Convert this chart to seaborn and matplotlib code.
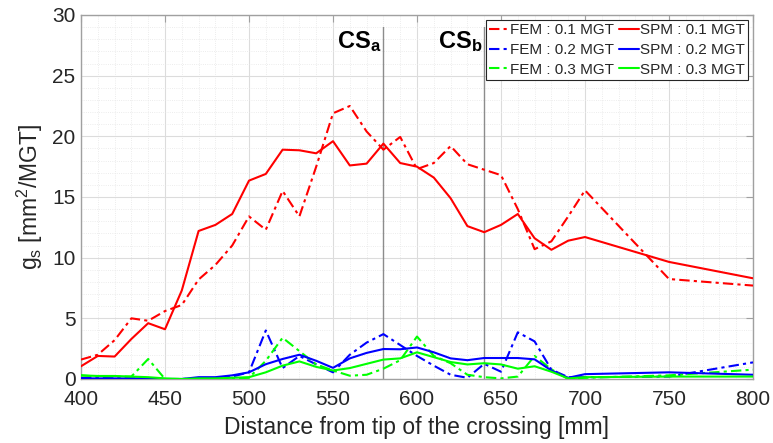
import numpy as np
import pandas as pd
import matplotlib
matplotlib.use("Agg")
import matplotlib.pyplot as plt
import seaborn as sns
from matplotlib.ticker import MultipleLocator

x = [400, 410, 420, 430, 440, 450, 460, 470, 480, 490, 500, 510, 520, 530, 540,
     550, 560, 570, 580, 590, 600, 610, 620, 630, 640, 650, 660, 670, 680, 690,
     700, 750, 800]

fem_01 = [1.6, 2.0, 3.2, 5.0, 4.8, 5.6, 6.1, 8.2, 9.4, 11.0, 13.4, 12.3, 15.5, 13.4, 17.5,
          21.9, 22.5, 20.4, 18.9, 19.95, 17.3, 17.8, 19.2, 17.7, 17.25, 16.8, 14.0, 10.7, 11.35, 13.4,
          15.55, 8.24, 7.7]
spm_01 = [1.05, 1.9, 1.85, 3.3, 4.6, 4.1, 7.3, 12.2, 12.7, 13.6, 16.35, 16.9, 18.9, 18.85, 18.6,
          19.6, 17.6, 17.75, 19.4, 17.8, 17.5, 16.6, 14.9, 12.6, 12.1, 12.7, 13.6, 11.6, 10.65, 11.4,
          11.7, 9.65, 8.3]
fem_02 = [0.1, 0.1, 0.05, 0.05, 0.05, 0.0, 0.0, 0.05, 0.05, 0.2, 0.55, 4.0, 0.9, 1.9, 1.2,
          0.55, 2.0, 3.0, 3.7, 2.8, 1.9, 1.1, 0.35, 0.1, 1.25, 0.6, 3.85, 3.1, 0.77, 0.15,
          0.15, 0.2, 1.37]
spm_02 = [0.05, 0.05, 0.05, 0.05, 0.05, 0.0, 0.0, 0.15, 0.15, 0.3, 0.55, 1.22, 1.65, 2.0, 1.5,
          0.92, 1.7, 2.15, 2.47, 2.45, 2.6, 2.2, 1.7, 1.55, 1.73, 1.73, 1.73, 1.62, 0.7, 0.1,
          0.4, 0.55, 0.35]
fem_03 = [0.3, 0.2, 0.2, 0.2, 1.65, 0.0, 0.0, 0.0, 0.0, 0.05, 0.1, 1.5, 3.4, 2.3, 1.2,
          0.7, 0.27, 0.35, 0.85, 1.55, 3.5, 1.9, 1.3, 0.35, 0.15, 0.05, 0.2, 1.9, 0.8, 0.0,
          0.1, 0.3, 0.77]
spm_03 = [0.3, 0.25, 0.25, 0.2, 0.15, 0.05, 0.0, 0.05, 0.05, 0.1, 0.15, 0.55, 1.1, 1.45, 1.0,
          0.7, 0.9, 1.25, 1.6, 1.7, 2.2, 1.8, 1.4, 1.2, 1.3, 1.2, 0.85, 1.05, 0.6, 0.05,
          0.15, 0.2, 0.2]

series = [
    ("FEM : 0.1 MGT", fem_01, "#FF0000", (0, (5, 2, 1.5, 2))),
    ("FEM : 0.2 MGT", fem_02, "#0000FF", (0, (5, 2, 1.5, 2))),
    ("FEM : 0.3 MGT", fem_03, "#00FF00", (0, (5, 2, 1.5, 2))),
    ("SPM : 0.1 MGT", spm_01, "#FF0000", "-"),
    ("SPM : 0.2 MGT", spm_02, "#0000FF", "-"),
    ("SPM : 0.3 MGT", spm_03, "#00FF00", "-"),
]

sns.set_style("white")
plt.rcParams['font.family'] = ['Liberation Sans', 'DejaVu Sans']
plt.rcParams['mathtext.fontset'] = 'custom'
plt.rcParams['mathtext.rm'] = 'Liberation Sans'
plt.rcParams['mathtext.it'] = 'Liberation Sans'
plt.rcParams['mathtext.bf'] = 'Liberation Sans:bold'

fig = plt.figure(figsize=(7.73, 4.43), dpi=100)
ax = fig.add_axes([81/773, 1-379/443, (753-81)/773, (379-15)/443])

for label, vals, color, ls in series:
    df = pd.DataFrame({"x": x, "y": vals})
    sns.lineplot(data=df, x="x", y="y", ax=ax, color=color, linestyle=ls,
                 linewidth=1.5, label=label, zorder=3)

ax.set_xlim(400, 800)
ax.set_ylim(0, 30)
ax.xaxis.set_major_locator(MultipleLocator(50))
ax.yaxis.set_major_locator(MultipleLocator(5))
ax.xaxis.set_minor_locator(MultipleLocator(10))
ax.yaxis.set_minor_locator(MultipleLocator(1))
ax.grid(which='major', color='#DCDCDC', linewidth=0.8, zorder=0)
ax.grid(which='minor', color='#E6E6E6', linewidth=0.6, linestyle=':', zorder=0)
ax.set_axisbelow(True)

for s in ax.spines.values():
    s.set_color('#A0A0A0')
    s.set_linewidth(1.0)
ax.tick_params(which='major', direction='in', length=5, color='#A0A0A0',
               top=True, right=True, labelsize=15, labelcolor='#262626')
ax.tick_params(axis='x', which='major', pad=8)
ax.tick_params(axis='y', which='major', pad=4)
ax.tick_params(which='minor', length=0)

ax.set_xlabel("Distance from tip of the crossing [mm]", fontsize=16.5, color='#262626', labelpad=5)
ax.set_ylabel(r"g$_\mathrm{s}$ [mm$^\mathrm{2}$/MGT]", fontsize=16.5, color='#262626', labelpad=5)

for xv in (580, 640):
    ax.plot([xv, xv], [0, 29], color='#8C8C8C', linewidth=1.0, zorder=2)

ax.text(579, 26.8, r"CS$_\mathbf{a}$", fontsize=17, fontweight='bold', ha='right', va='bottom', color='black')
ax.text(639, 26.8, r"CS$_\mathbf{b}$", fontsize=17, fontweight='bold', ha='right', va='bottom', color='black')

leg = ax.legend(ncol=2, loc='upper right', bbox_to_anchor=(0.9925, 0.986), fontsize=11,
                frameon=True, fancybox=False, handlelength=1.3, handletextpad=0.1,
                columnspacing=0.3, labelspacing=0.38, borderpad=0.2, borderaxespad=0.0)
leg.get_frame().set_edgecolor('#262626')
leg.get_frame().set_linewidth(0.8)
leg.get_frame().set_alpha(1)
leg.set_zorder(5)
for t in leg.get_texts():
    t.set_color('#262626')

fig.savefig("out.png", dpi=100)
